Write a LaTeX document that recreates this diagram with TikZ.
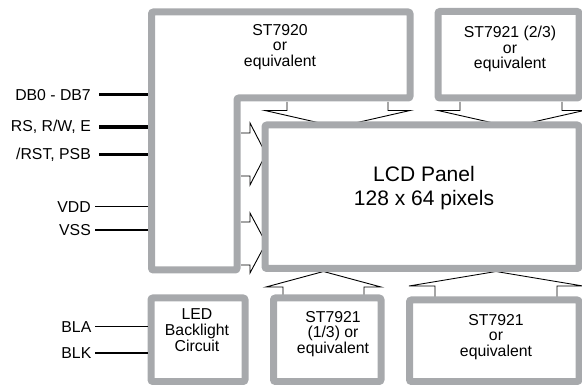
\documentclass[tikz,border=0pt]{standalone}
\usepackage{fontspec}
\setmainfont{Liberation Sans}
\definecolor{boxgray}{RGB}{167,169,172}
\begin{document}
\begin{tikzpicture}[x=1pt,y=-1pt,
  gbox/.style={draw=boxgray,line width=7pt,rounded corners=2pt},
  arr/.style={draw=black,line width=0.9pt,line join=miter},
  bus/.style={draw=black,line width=3.2pt},
  wire/.style={draw=black,line width=1.2pt},
  lbl/.style={anchor=east,inner sep=0pt,font=\fontsize{15.8}{15}\selectfont},
  btxt/.style={align=center,inner sep=0pt,font=\fontsize{15.8}{15.8}\selectfont},
  big/.style={align=center,inner sep=0pt,font=\fontsize{21}{24}\selectfont}]
\useasboundingbox (0,0) rectangle (582,385);
% arrows (drawn first so box borders cover their tips)
\draw[arr] (287,102) -- (287,110.5) -- (265,110.5) -- (337.5,127) -- (410,110.5) -- (388,110.5) -- (388,102);
\draw[arr] (460,102) -- (460,110.5) -- (438,110.5) -- (511,127) -- (584,110.5) -- (562,110.5) -- (562,102);
\draw[arr] (241,133) -- (250,133) -- (250,123) -- (266,154) -- (250,185) -- (250,176) -- (241,176);
\draw[arr] (241,222) -- (250,222) -- (250,213) -- (266,243) -- (250,273) -- (250,265) -- (241,265);
\draw[arr] (283,295) -- (283,287) -- (266,287) -- (323.5,271.5) -- (381,287) -- (364,287) -- (364,295);
\draw[arr] (435,297) -- (435,286) -- (409,286) -- (496,271.5) -- (583,286) -- (557,286) -- (557,297);
% boxes
\draw[gbox] (151.5,12) -- (410,12) -- (410,98) -- (237,98) -- (237,270) -- (151.5,270) -- cycle;
\draw[gbox] (438,11.5) rectangle (579,98);
\draw[gbox] (265,125) rectangle (579,268.5);
\draw[gbox] (151,298) rectangle (245,381.5);
\draw[gbox] (273.5,298) rectangle (381,381.5);
\draw[gbox] (409.5,300) rectangle (579,381.5);
% box texts
\node[btxt] (t7920) at (280,47) {ST7920\\or\\equivalent};
\node[btxt] (t7921b) at (510,49) {ST7921 (2/3)\\or\\equivalent};
\node[big] (tlcd) at (424,188) {LCD Panel\\128 x 64 pixels};
\node[btxt] (t7921a) at (333,334) {ST7921\\(1/3) or\\equivalent};
\node[btxt] (tled) at (197,330) {LED\\Backlight\\Circuit};
\node[btxt] (t7921c) at (496,337) {ST7921\\or\\equivalent};
% left signals
\node[lbl] (db) at (91,95) {DB0 - DB7};
\node[lbl] (rs) at (91,127) {RS, R/W, E};
\node[lbl] (rst) at (91,155) {/RST, PSB};
\node[lbl] (vdd) at (91,207) {VDD};
\node[lbl] (vss) at (91,230) {VSS};
\node[lbl] (bla) at (91.5,327) {BLA};
\node[lbl] (blk) at (91.5,353) {BLK};
\coordinate (dbE) at (148,94.5);
\coordinate (rsE) at (148,127);
\coordinate (rstE) at (148,154.5);
\coordinate (vddE) at (148,206.7);
\coordinate (vssE) at (148,230);
\coordinate (blaE) at (148,326.7);
\coordinate (blkE) at (148,353);
\draw[bus] (99,94.5) -- (dbE);
\draw[bus] (99,127) -- (rsE);
\draw[bus] (99,154.5) -- (rstE);
\draw[wire] (95,206.7) -- (vddE);
\draw[wire] (95,230) -- (vssE);
\draw[wire] (95,326.7) -- (blaE);
\draw[wire] (95,353) -- (blkE);
\end{tikzpicture}
\end{document}
